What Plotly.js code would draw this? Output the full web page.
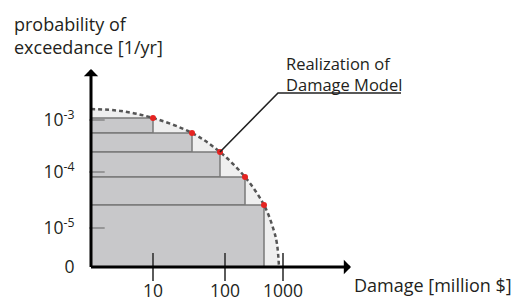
<!DOCTYPE html>
<html>
<head>
<meta charset="utf-8">
<script src="https://cdn.plot.ly/plotly-3.0.1.min.js"></script>
<style>html,body{margin:0;padding:0;background:#fff;}#chart{width:521px;height:302px;}</style>
</head>
<body>
<div id="chart"></div>
<script>
// Schematic chart: values are positions on the schematic (non-numeric) axes.
// Realizations of the damage model (red points): damage and exceedance probability
const damage = [62, 101, 129, 154, 173];
const prob = [149, 134, 115, 90, 62];
// Dashed exceedance curve
const curveX = [0, 30, 62, 101, 129, 154, 173, 183, 186, 188];
const curveY = [158, 156, 149, 134, 115, 90, 62, 36, 23, 0];
// Axis ticks
const xTickVals = [62, 134, 192];
const xTickText = ['10', '100', '1000'];
const yTickVals = [147, 95, 39, 0];
const yTickText = ['10<sup>-3</sup>', '10<sup>-4</sup>', '10<sup>-5</sup>', '0'];
const yMarkVals = [147, 95, 39];

// Bars: each spans from the next realization's probability (or 0) up to its own
const barBottom = prob.map((p, i) => (i + 1 < prob.length ? prob[i + 1] : 0));

const FONT = 'Open Sans, Noto Sans, sans-serif';
const TXT = '#231f20';

const traces = [
  { x: curveX, y: curveY, type: 'scatter', mode: 'lines', fill: 'tozeroy',
    fillcolor: '#efefef', line: { width: 0, shape: 'spline', color: 'rgba(0,0,0,0)' },
    hoverinfo: 'skip', showlegend: false }
];
damage.forEach((d, i) => {
  traces.push({
    x: [0, d, d, 0, 0], y: [barBottom[i], barBottom[i], prob[i], prob[i], barBottom[i]],
    type: 'scatter', mode: 'lines', fill: 'toself', fillcolor: '#c8c8ca',
    line: { color: '#7a7a7a', width: 1.5 }, hoverinfo: 'skip', showlegend: false
  });
});
traces.push(
  { x: curveX, y: curveY, type: 'scatter', mode: 'lines',
    line: { color: '#555555', width: 2.5, dash: '4px,3px', shape: 'spline' },
    hoverinfo: 'skip', showlegend: false },
  { x: xTickVals, y: xTickVals.map(() => 0), type: 'scatter', mode: 'markers', cliponaxis: false,
    marker: { symbol: 'line-ns', size: 20, line: { color: '#333', width: 1.6 } },
    hoverinfo: 'skip', showlegend: false },
  { x: yMarkVals.map(() => -4), y: yMarkVals, type: 'scatter', mode: 'markers', cliponaxis: false,
    marker: { symbol: 'line-ew', size: 8, line: { color: '#222', width: 1.6 } },
    hoverinfo: 'skip', showlegend: false },
  { x: yMarkVals.map(() => 6), y: yMarkVals, type: 'scatter', mode: 'markers', cliponaxis: false,
    marker: { symbol: 'line-ew', size: 11, line: { color: '#8a8a8a', width: 1.6 } },
    hoverinfo: 'skip', showlegend: false },
  { x: damage, y: prob, type: 'scatter', mode: 'markers', cliponaxis: false,
    marker: { color: '#e52421', size: 6 },
    hoverinfo: 'skip', showlegend: false }
);

const layout = {
  width: 521, height: 302,
  margin: { l: 91, r: 0, t: 0, b: 35 },
  paper_bgcolor: '#ffffff', plot_bgcolor: '#ffffff',
  font: { family: FONT, color: TXT },
  showlegend: false,
  xaxis: { range: [0, 430], showgrid: false, zeroline: false, showline: false,
    tickmode: 'array', tickvals: xTickVals, ticktext: xTickText,
    ticks: 'outside', ticklen: 8, tickcolor: 'rgba(0,0,0,0)',
    tickfont: { size: 17.5, color: TXT, family: FONT }, fixedrange: true },
  yaxis: { range: [0, 267], showgrid: false, zeroline: false, showline: false,
    tickmode: 'array', tickvals: yTickVals, ticktext: yTickText,
    ticks: 'outside', ticklen: 12, tickcolor: 'rgba(0,0,0,0)',
    tickfont: { size: 17.5, color: TXT, family: FONT }, fixedrange: true },
  shapes: [
    { type: 'path', xref: 'x', yref: 'y',
      path: 'M ' + damage[2] + ',' + prob[2] + ' L 187,174 L 310,174',
      line: { color: '#222', width: 1.6 } }
  ],
  annotations: [
    { x: 260, y: 0, ax: -1.5, ay: 0, xref: 'x', yref: 'y', axref: 'x', ayref: 'y',
      text: '', showarrow: true, arrowhead: 1, arrowsize: 0.8, arrowwidth: 3, arrowcolor: '#000', standoff: 0 },
    { x: 0, y: 198, ax: 0, ay: -1.5, xref: 'x', yref: 'y', axref: 'x', ayref: 'y',
      text: '', showarrow: true, arrowhead: 1, arrowsize: 0.8, arrowwidth: 3, arrowcolor: '#000', standoff: 0 },
    { x: -79 / 430, y: 1 - 35 / 267, xref: 'paper', yref: 'paper', xanchor: 'left', yanchor: 'middle', align: 'left',
      text: 'probability of<br>exceedance [1/yr]', showarrow: false,
      font: { size: 18, color: TXT, family: FONT } },
    { x: 261 / 430, y: -18 / 267, xref: 'paper', yref: 'paper', xanchor: 'left', yanchor: 'middle', align: 'left',
      text: 'Damage [million $]', showarrow: false,
      font: { size: 18, color: TXT, family: FONT } },
    { x: 193, y: 193, xref: 'x', yref: 'y', xanchor: 'left', yanchor: 'middle', align: 'left',
      text: 'Realization of<br>Damage Model', showarrow: false,
      font: { size: 16.5, color: TXT, family: FONT } }
  ]
};

Plotly.newPlot('chart', traces, layout, { staticPlot: true, displayModeBar: false });
</script>
</body>
</html>
